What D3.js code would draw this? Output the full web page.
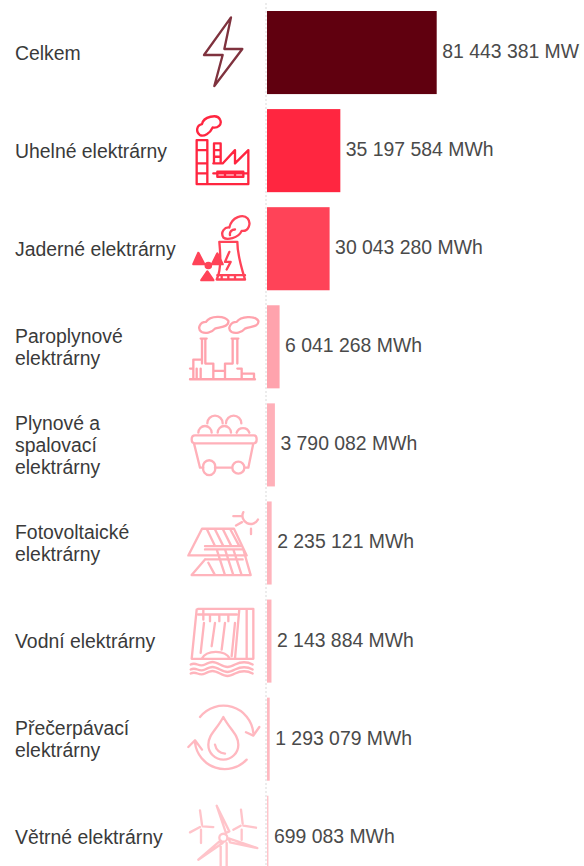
<!DOCTYPE html>
<html lang="cs">
<meta charset="utf-8">
<script src="https://d3js.org/d3.v7.min.js"></script>

<head>
    <style type="text/css">
        html, body { margin: 0; padding: 0; background: white; }
        svg { display: block; }
        .label { font-size: 19.4px; font-family: "Liberation Sans", Arial, sans-serif; fill: #3a3a3a; }
        .value { font-size: 19.4px; font-family: "Liberation Sans", Arial, sans-serif; fill: #4a4a4a; }
        .icon { fill: none; stroke-width: 7; stroke-linecap: round; stroke-linejoin: round; filter: blur(0.5px); }
    </style>
</head>

<body>
    <div id="my_dataviz"></div>

    <script>
        // data
        const categories = ["Celkem", "Uhelné elektrárny", "Jaderné elektrárny", "Paroplynové elektrárny",
            "Plynové a spalovací elektrárny", "Fotovoltaické elektrárny", "Vodní elektrárny",
            "Přečerpávací elektrárny", "Větrné elektrárny"];
        const values = [81443381, 35197584, 30043280, 6041268, 3790082, 2235121, 2143884, 1293079, 699083];

        const labelLines = [["Celkem"], ["Uhelné elektrárny"], ["Jaderné elektrárny"], ["Paroplynové", "elektrárny"],
            ["Plynové a", "spalovací", "elektrárny"], ["Fotovoltaické", "elektrárny"], ["Vodní elektrárny"],
            ["Přečerpávací", "elektrárny"], ["Větrné elektrárny"]];

        const palette = ["#60000f", "#ff2640", "#ff4358", "#ffa3ad", "#ffb0b9", "#ffb4bc", "#ffb4bc", "#ffb8c0", "#ffc4ca"];

        // icons are drawn in a 3x grid, off = distance from grid top to top of the bar
        const icons = [
            { off: 33, d: "M153 52L72 165H128L103 258L187 147H133Z" },
            { off: 327, d: "M50 552V420H82V552M50 450H82M50 490H82M50 520H82M102 490V430H122V490M102 450H122M102 470H122M50 552H205V450L165 490V450L128 490H100M100 520H205M112 515H190V530H112ZM135 515V530M165 515V530M60 405C46 395 50 375 66 372C70 350 112 340 120 358C128 374 112 385 98 382C90 400 72 410 60 405Z" },
            { off: 21, d: "M118 125H172C172 165 185 205 195 238H110C122 215 122 165 118 125ZM148 155L135 185H152L140 208M112 225H195M125 225V238M145 225V238M165 225V238M130 112C120 95 135 80 148 82C155 50 190 40 203 55C215 70 205 95 185 92C175 115 140 120 130 112ZM150 105C148 95 155 88 165 88",
                fill: "M55 158L40 192H73ZM112 160L96 192H128ZM82 214L64 240H100ZM85 188A8 8 0 1 0 85 204A8 8 0 1 0 85 188Z" },
            { off: 315, d: "M65 395C50 385 60 365 78 365C90 345 135 345 145 362C148 380 120 380 105 385C95 398 75 400 65 395ZM155 395C140 385 152 365 170 365C182 348 225 345 235 362C238 380 210 378 195 385C185 398 165 400 155 395ZM62 415H80M66 415V490M76 415V490M155 415H175M158 415V490M172 415V490M30 537H225M40 537V478H66M76 490H100V537M135 537V490H158M172 505H185V537M185 520H222V537M30 505H40M50 505V537M62 505V537M105 512H135" },
            { off: 12, d: "M45 108H222Q230 108 230 120Q230 132 222 132H45Q35 132 35 120Q35 108 45 108ZM42 132L60 205H70M106 205H157M193 205H205L220 132M105 205A18 18 0 1 0 70 205A18 18 0 1 0 105 205ZM193 205A18 18 0 1 0 157 205A18 18 0 1 0 193 205ZM55 100A20 20 0 0 1 95 100M113 100A20 20 0 0 1 153 100M170 100A20 20 0 0 1 208 100M82 72A23 23 0 0 1 128 72M138 72A23 23 0 0 1 184 72" },
            { off: 306, d: "M190 338A24 24 0 0 0 234 360M160 350H182M168 378L186 368M213 388V404M66 388H162L200 468H25ZM80 388L105 440M104 388L130 440M128 388L154 440M150 388L178 440M75 440H182M75 450H190L212 527H35L75 480M75 480H188M110 450L135 527M85 490L105 527M135 450L160 527M160 450L185 527" },
            { off: 0, d: "M55 28H220V178H35L50 30L55 28ZM178 28L165 178M200 28V178M70 28V60M55 45H170M90 45V65M118 45V65M145 45V65M72 70L62 160M105 70L95 140M135 70L125 150M165 70L155 170M65 178C80 150 135 150 150 178M32 195C50 185 55 205 75 195S100 185 120 195S145 205 165 195S200 185 218 195M32 210C50 200 55 220 75 210S100 200 120 210S145 220 165 210S200 200 218 210M32 222C50 212 55 232 75 222S100 212 120 222S145 232 165 222S200 212 218 222" },
            { off: 294, d: "M60 352A90 90 0 0 1 220 400M200 480A90 90 0 0 1 45 430M198 398L220 408L238 382M25 442L45 422L66 450M130 352C110 390 85 405 85 435A45 45 0 0 0 175 435C175 405 150 390 130 352ZM105 435C108 450 118 460 135 462" },
            { off: 588, d: "M110 618L138 700L148 695ZM146 716L232 745L150 728ZM122 722L55 780L128 730ZM142 714A12 12 0 1 0 118 714A12 12 0 1 0 142 714ZM122 730V798M140 730V798M60 632L66 675M30 698L60 682M100 682L68 680M63 690V730M183 630L188 672M160 690L182 678M228 684L190 678M185 690V720" }
        ];

        const margin = { top: 11, left: 267 },
            svgWidth = 580,
            svgHeight = 866;

        const svg = d3.select("#my_dataviz")
            .append("svg")
            .attr("width", svgWidth)
            .attr("height", svgHeight);

        const x = d3.scaleLinear()
            .domain([0, d3.max(values)])
            .range([margin.left, 436.7]);

        const y = d3.scaleBand()
            .domain(categories)
            .range([margin.top, 878.8])
            .paddingInner(0.153);

        const color = d3.scaleOrdinal().domain(categories).range(palette);

        const czech = d3.formatLocale({ thousands: " ", grouping: [3], decimal: ",", currency: ["", ""] });
        const fmt = czech.format(",d");

        const rows = categories.map((c, i) => ({ c, v: values[i], lines: labelLines[i], icon: icons[i] }));

        // dotted axis line
        svg.append("line")
            .attr("x1", 266).attr("x2", 266)
            .attr("y1", 3).attr("y2", svgHeight)
            .attr("stroke", "#e6e6e6")
            .attr("stroke-width", 1.5)
            .attr("stroke-dasharray", "2 2");

        // bars
        svg.selectAll(".bar")
            .data(rows)
            .join("rect")
            .attr("class", "bar")
            .attr("x", x(0))
            .attr("y", d => y(d.c))
            .attr("width", d => x(d.v) - x(0))
            .attr("height", y.bandwidth())
            .attr("fill", d => color(d.c));

        // values
        svg.selectAll(".value")
            .data(rows)
            .join("text")
            .attr("class", "value")
            .attr("x", d => x(d.v) + 5.5)
            .attr("y", d => y(d.c) + y.bandwidth() / 2 + 5.5)
            .text(d => fmt(d.v) + " MWh");

        // category labels
        svg.selectAll(".label")
            .data(rows)
            .join("text")
            .attr("class", "label")
            .attr("y", d => y(d.c) + y.bandwidth() / 2 + 7 - (d.lines.length - 1) * 11)
            .selectAll("tspan")
            .data(d => d.lines)
            .join("tspan")
            .attr("x", 15)
            .attr("dy", (d, i) => i ? 22 : 0)
            .text(d => d);

        // icons
        const icon = svg.selectAll(".icon")
            .data(rows)
            .join("g")
            .attr("class", "icon")
            .attr("opacity", (d, i) => i ? 1 : 0.8)
            .attr("transform", d => `translate(180, ${y(d.c) - d.icon.off / 3}) scale(${1 / 3})`);

        icon.append("path")
            .attr("d", d => d.icon.d)
            .attr("stroke", d => color(d.c));

        icon.filter(d => d.icon.fill)
            .append("path")
            .attr("d", d => d.icon.fill)
            .attr("fill", d => color(d.c))
            .attr("stroke", d => color(d.c));
    </script>
</body>

</html>
